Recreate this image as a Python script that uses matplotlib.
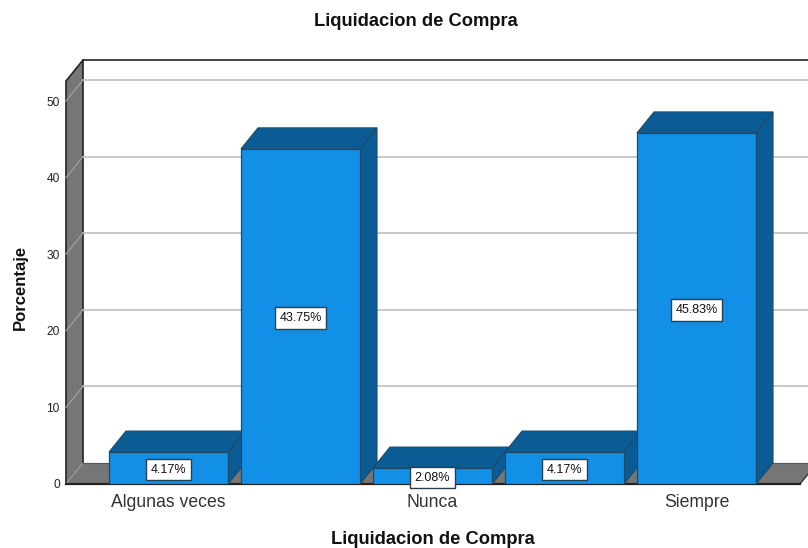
import matplotlib
matplotlib.use("Agg")
import matplotlib.pyplot as plt

categories = ["Algunas veces", "", "Nunca", "", "Siempre"]
percent = [4.17, 43.75, 2.08, 4.17, 45.83]
labels = ["4.17%", "43.75%", "2.08%", "4.17%", "45.83%"]
y_ticks = [0, 10, 20, 30, 40, 50]

FRONT = "#1290e8"
SHADE = "#0b5c94"
WALL = "#767676"
EDGE = "#1d4a68"

plt.rcParams["font.family"] = ["Liberation Sans", "DejaVu Sans"]

W, H = 808, 548
fig = plt.figure(figsize=(W / 100, H / 100), dpi=100)
# axes box = front plane of the 3d frame, in pixels
left, right, bottom, top = 66, 808, 484, 81
ax = fig.add_axes([left / W, 1 - bottom / H, (right - left) / W, (bottom - top) / H])

px_x = 132.0  # px per category
px_y = 7.66  # px per percent
x0 = (left - 168.5) / px_x
ax.set_xlim(x0, x0 + (right - left) / px_x)
ax.set_ylim(0, (bottom - top) / px_y)

dx = 17 / px_x
dy = 21 / px_y
width = 119 / px_x
ymax = (bottom - top) / px_y
xl = x0
xr = x0 + (800 - left) / px_x

# floor and left wall
ax.fill([xl, xr, xr + dx, xl + dx], [0, 0, dy, dy], fc=WALL, ec="none", clip_on=False, zorder=1)
ax.plot([xl + dx, xr + dx], [dy, dy], color="#555555", lw=0.8, clip_on=False, zorder=1.1)
ax.plot([xr, xr + dx], [0, dy], color="#333333", lw=1, clip_on=False, zorder=1.1)
ax.fill([xl, xl + dx, xl + dx, xl], [0, dy, ymax + dy, ymax], fc=WALL, ec="none", clip_on=False, zorder=1)
ax.plot([xl, xl, xl + dx, xl + dx], [0, ymax, ymax + dy, dy], color="#222222", lw=1.2, clip_on=False, zorder=1.2)
ax.plot([xl, xl + dx], [0, dy], color="#9a9a9a", lw=0.8, clip_on=False, zorder=1.2)
ax.plot([xl + dx, xr + 1], [ymax + dy, ymax + dy], color="#444444", lw=1.4, clip_on=False, zorder=1)
ax.plot([xl, xr], [0, 0], color="#222222", lw=1.6, clip_on=False, zorder=2)

# gridlines on back wall, slanted on the left wall
for t in y_ticks[1:]:
    ax.plot([xl + dx, xr + 1], [t + dy, t + dy], color="#c4c4c4", lw=1.3, clip_on=False, zorder=1.5)
    ax.plot([xl, xl + dx], [t, t + dy], color="#a0a0a0", lw=0.9, clip_on=False, zorder=1.5)

# bars, left to right so each front covers the previous side
for i, v in enumerate(percent):
    a = i - width / 2
    b = i + width / 2
    z = 3 + i
    ax.fill([a, b, b + dx, a + dx], [v, v, v + dy, v + dy], fc=SHADE, ec=EDGE, lw=0.8, clip_on=False, zorder=z)
    ax.fill([b, b + dx, b + dx, b], [0, dy, v + dy, v], fc=SHADE, ec=EDGE, lw=0.8, clip_on=False, zorder=z)
    ax.bar(i, v, width=width, color=FRONT, edgecolor=EDGE, linewidth=0.9, zorder=z + 0.1)
    ax.text(i, v / 2, labels[i], ha="center", va="center_baseline", fontsize=9, color="#111111", zorder=20,
            bbox=dict(boxstyle="square,pad=0.38", fc="white", ec="#27404f", lw=1))

for s in ax.spines.values():
    s.set_visible(False)
ax.patch.set_visible(False)

ax.set_yticks(y_ticks)
ax.tick_params(axis="y", length=0, pad=4.5, labelsize=8.6, labelcolor="#222222")
ax.set_xticks([i for i, c in enumerate(categories) if c])
ax.set_xticklabels([c for c in categories if c])
ax.tick_params(axis="x", length=0, pad=7.5, labelsize=12.7, labelcolor="#333333")

fig.text(415.5 / W, 1 - 22 / H, "Liquidacion de Compra", ha="center", va="center", fontsize=13.2, fontweight="bold", color="#111111")
fig.text(432.5 / W, 1 - 540 / H, "Liquidacion de Compra", ha="center", va="center", fontsize=13.2, fontweight="bold", color="#111111")
fig.text(20 / W, 1 - 287.5 / H, "Porcentaje", ha="center", va="center", rotation=90, fontsize=12, fontweight="bold", color="#111111")

fig.savefig("out.png", dpi=100)
